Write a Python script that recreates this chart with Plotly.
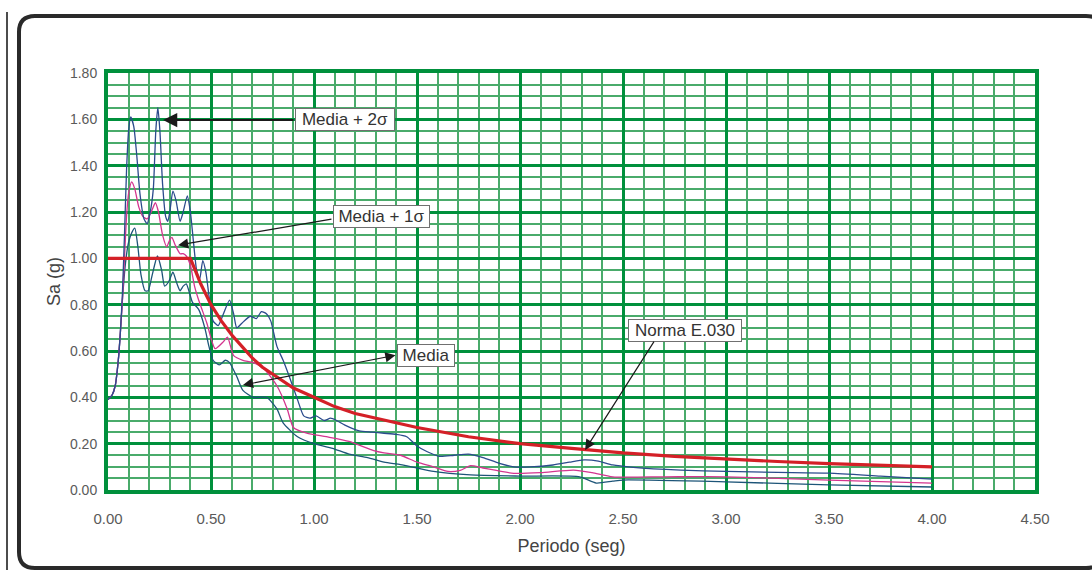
import plotly.graph_objects as go

# ---------------- data ----------------
# Media + 2 sigma
t_2s = [0.0, 0.02, 0.035, 0.05, 0.06, 0.07, 0.08, 0.09, 0.10, 0.11, 0.125, 0.14, 0.155, 0.175,
        0.19, 0.205, 0.22, 0.232, 0.242, 0.252, 0.265, 0.28, 0.29, 0.30, 0.315, 0.33, 0.35,
        0.365, 0.385, 0.40, 0.415, 0.43, 0.445, 0.46, 0.475, 0.49, 0.51, 0.535, 0.56, 0.59,
        0.61, 0.625, 0.65, 0.69, 0.72, 0.745, 0.77, 0.79, 0.82, 0.85, 0.88, 0.92, 0.95, 0.98,
        1.01, 1.05, 1.08, 1.11, 1.15, 1.22, 1.28, 1.34, 1.40, 1.45, 1.50, 1.55, 1.61, 1.68,
        1.75, 1.82, 1.90, 1.97, 2.05, 2.16, 2.24, 2.31, 2.38, 2.45, 2.55, 2.78, 3.0, 3.25,
        3.5, 3.75, 4.0]
sa_2s = [0.39, 0.41, 0.45, 0.56, 0.68, 0.85, 1.10, 1.38, 1.55, 1.61, 1.57, 1.44, 1.28, 1.17,
         1.15, 1.20, 1.30, 1.55, 1.65, 1.55, 1.32, 1.18, 1.16, 1.20, 1.29, 1.25, 1.16,
         1.20, 1.27, 1.20, 1.07, 0.95, 0.91, 0.99, 0.94, 0.84, 0.73, 0.71, 0.76, 0.82,
         0.76, 0.70, 0.72, 0.75, 0.74, 0.77, 0.76, 0.73, 0.62, 0.56, 0.49, 0.39, 0.32, 0.31,
         0.32, 0.30, 0.31, 0.30, 0.28, 0.255, 0.25, 0.245, 0.24, 0.23, 0.19, 0.165, 0.145, 0.15,
         0.155, 0.14, 0.115, 0.10, 0.10, 0.108, 0.12, 0.13, 0.125, 0.108, 0.098, 0.086, 0.08, 0.076,
         0.073, 0.06, 0.047]

# Media + 1 sigma
t_1s = [0.0, 0.02, 0.035, 0.05, 0.06, 0.07, 0.08, 0.09, 0.10, 0.115, 0.13, 0.15, 0.17, 0.19,
        0.21, 0.23, 0.245, 0.265, 0.285, 0.30, 0.31, 0.325, 0.35, 0.365, 0.38, 0.40, 0.42,
        0.44, 0.48, 0.52, 0.56, 0.58, 0.61, 0.655, 0.705, 0.76, 0.82, 0.87, 0.90, 0.965,
        1.06, 1.17, 1.29, 1.34, 1.42, 1.50, 1.58, 1.65, 1.71, 1.76, 1.82, 1.97, 2.10, 2.26,
        2.35, 2.45, 2.70, 3.0, 3.5, 4.0]
sa_1s = [0.39, 0.41, 0.45, 0.56, 0.68, 0.82, 1.00, 1.18, 1.28, 1.33, 1.30, 1.22, 1.18, 1.17,
         1.20, 1.24, 1.20, 1.10, 1.05, 1.08, 1.09, 1.06, 1.02, 1.02, 1.01, 0.97, 0.88,
         0.82, 0.72, 0.61, 0.64, 0.66, 0.58, 0.56, 0.55, 0.52, 0.45, 0.35, 0.27, 0.245,
         0.23, 0.21, 0.17, 0.16, 0.15, 0.12, 0.10, 0.08, 0.085, 0.105, 0.095, 0.072, 0.075, 0.086,
         0.075, 0.057, 0.057, 0.057, 0.043, 0.03]

# Media
t_m = [0.0, 0.02, 0.035, 0.05, 0.06, 0.07, 0.085, 0.10, 0.115, 0.13, 0.145, 0.16, 0.18, 0.195,
       0.215, 0.24, 0.26, 0.275, 0.295, 0.315, 0.335, 0.35, 0.365, 0.38, 0.41, 0.44, 0.47,
       0.49, 0.51, 0.54, 0.57, 0.59, 0.625, 0.655, 0.705, 0.77, 0.82, 0.85, 0.92, 1.0, 1.09,
       1.17, 1.26, 1.34, 1.42, 1.50, 1.58, 1.76, 2.0, 2.29, 2.37, 2.45, 2.5, 3.0, 3.5, 4.0]
sa_m = [0.39, 0.41, 0.45, 0.56, 0.68, 0.82, 0.98, 1.07, 1.11, 1.13, 1.05, 0.93, 0.86, 0.86,
        0.93, 1.01, 0.95, 0.88, 0.90, 0.94, 0.89, 0.86, 0.88, 0.89, 0.81, 0.78, 0.70,
        0.62, 0.56, 0.54, 0.56, 0.55, 0.49, 0.43, 0.40, 0.40, 0.35, 0.29, 0.23, 0.20, 0.18,
        0.155, 0.14, 0.12, 0.11, 0.095, 0.08, 0.065, 0.06, 0.057, 0.03, 0.038, 0.043, 0.035, 0.022, 0.013]

# Norma E.030
t_n = [0.0, 0.4, 0.45, 0.5, 0.55, 0.6, 0.65, 0.7, 0.75, 0.8, 0.9, 1.0, 1.1, 1.2, 1.3, 1.4,
       1.5, 1.75, 2.0, 2.25, 2.5, 2.75, 3.0, 3.25, 3.5, 3.75, 4.0]
sa_n = [1.0, 1.0, 0.89, 0.80, 0.73, 0.67, 0.62, 0.57, 0.53, 0.50, 0.44, 0.40, 0.36, 0.33, 0.31, 0.29,
        0.27, 0.23, 0.20, 0.18, 0.16, 0.145, 0.133, 0.123, 0.114, 0.107, 0.10]

x_ticks = [0.0, 0.5, 1.0, 1.5, 2.0, 2.5, 3.0, 3.5, 4.0, 4.5]
y_ticks = [0.0, 0.2, 0.4, 0.6, 0.8, 1.0, 1.2, 1.4, 1.6, 1.8]

labels = ["Media + 2σ", "Media + 1σ", "Media", "Norma E.030"]
# arrow tips (data coords) and tails (data coords)
tip_x = [0.267, 0.34, 0.655, 2.316]
tip_y = [1.597, 1.057, 0.453, 0.173]
tail_x = [0.908, 1.092, 1.403, 2.655]
tail_y = [1.597, 1.170, 0.583, 0.647]

# ---------------- layout geometry (pixels) ----------------
W, H = 1092, 570
L, R, T, B = 108, 1035, 73, 490
PW, PH = R - L, B - T


def px(p):
    return (p - L) / PW


def py(p):
    return (B - p) / PH


MAJOR = "#00903c"
MINOR = "#4aab6b"
FONT = "Liberation Sans, Arial, sans-serif"

fig = go.Figure()
fig.add_trace(go.Scatter(x=t_m, y=sa_m, mode="lines", name="Media",
                         line=dict(color="#1d5578", width=1.3, shape="spline", smoothing=0.6)))
fig.add_trace(go.Scatter(x=t_1s, y=sa_1s, mode="lines", name="Media + 1σ",
                         line=dict(color="#d4358f", width=1.3, shape="spline", smoothing=0.6)))
fig.add_trace(go.Scatter(x=t_2s, y=sa_2s, mode="lines", name="Media + 2σ",
                         line=dict(color="#2b4b8c", width=1.3, shape="spline", smoothing=0.6)))
fig.add_trace(go.Scatter(x=t_n, y=sa_n, mode="lines", name="Norma E.030",
                         line=dict(color="#d42027", width=3.2)))

annotations = []
# box centre (px) and box width (px)
box_centers = [(345, 119), (381, 216), (426, 355), (685, 331)]
box_widths = [100, 97, 58, 114]
for lab, (cx, cy), bw in zip(labels, box_centers, box_widths):
    annotations.append(dict(text=lab, xref="paper", yref="paper", x=px(cx), y=py(cy),
                            showarrow=False, xanchor="center", yanchor="middle",
                            width=bw - 4, align="center",
                            font=dict(family=FONT, size=17, color="#333333"),
                            bgcolor="white", bordercolor="#707070", borderwidth=1, borderpad=1))
for i in range(4):
    annotations.append(dict(text="", x=tip_x[i], y=tip_y[i], xref="x", yref="y",
                            ax=tail_x[i], ay=tail_y[i], axref="x", ayref="y",
                            showarrow=True, arrowhead=2, arrowsize=1.5 if i == 0 else 1.7,
                            arrowwidth=1.9 if i == 0 else 1.2, arrowcolor="#1a1a1a",
                            arrowside="end+start" if i == 2 else "end"))

# rounded outer frame
fl, ft, fr, fb, rr = 19, 16, 1102, 568, 16


def P(x, y):
    return f"{px(x):.5f},{py(y):.5f}"


frame = (f"M {P(fl, ft + rr)} Q {P(fl, ft)} {P(fl + rr, ft)} L {P(fr - rr, ft)} "
         f"Q {P(fr, ft)} {P(fr, ft + rr)} L {P(fr, fb - rr)} Q {P(fr, fb)} {P(fr - rr, fb)} "
         f"L {P(fl + rr, fb)} Q {P(fl, fb)} {P(fl, fb - rr)} Z")
shapes = [
    dict(type="path", path=frame, xref="paper", yref="paper",
         line=dict(color="#2a2a2a", width=4), layer="below"),
    dict(type="line", xref="paper", yref="paper", x0=px(7), x1=px(7), y0=py(12), y1=py(580),
         line=dict(color="#111111", width=1.5)),
]

fig.update_layout(
    width=W, height=H,
    margin=dict(l=L, r=W - R, t=T, b=H - B, pad=0),
    paper_bgcolor="white", plot_bgcolor="white",
    showlegend=False,
    font=dict(family=FONT, color="#555555"),
    annotations=annotations,
    shapes=shapes,
    xaxis=dict(range=[0, 4.5], tickvals=x_ticks, ticktext=[f"{v:.2f}" for v in x_ticks],
               showgrid=True, gridcolor=MAJOR, gridwidth=3, zeroline=False,
               showline=True, mirror=True, linecolor=MAJOR, linewidth=4,
               ticks="", ticklabelstandoff=12, tickfont=dict(size=15, color="#5a5a5a"),
               minor=dict(dtick=0.1, tick0=0, showgrid=True, gridcolor=MINOR, gridwidth=1.5),
               title=dict(text="Periodo (seg)", font=dict(size=18, color="#444444"), standoff=14)),
    yaxis=dict(range=[0, 1.8], tickvals=y_ticks, ticktext=[f"{v:.2f}" for v in y_ticks],
               showgrid=True, gridcolor=MAJOR, gridwidth=3, zeroline=False,
               showline=True, mirror=True, linecolor=MAJOR, linewidth=4,
               ticks="", ticklabelstandoff=4, tickfont=dict(size=14, color="#5a5a5a"),
               minor=dict(dtick=0.05, tick0=0, showgrid=True, gridcolor=MINOR, gridwidth=1.5),
               title=dict(text="Sa (g)", font=dict(size=18, color="#444444"), standoff=6)),
)

fig.write_html("out.html", config={"displayModeBar": False},
               post_script="document.body.style.margin='0px';document.body.style.overflow='hidden';")
